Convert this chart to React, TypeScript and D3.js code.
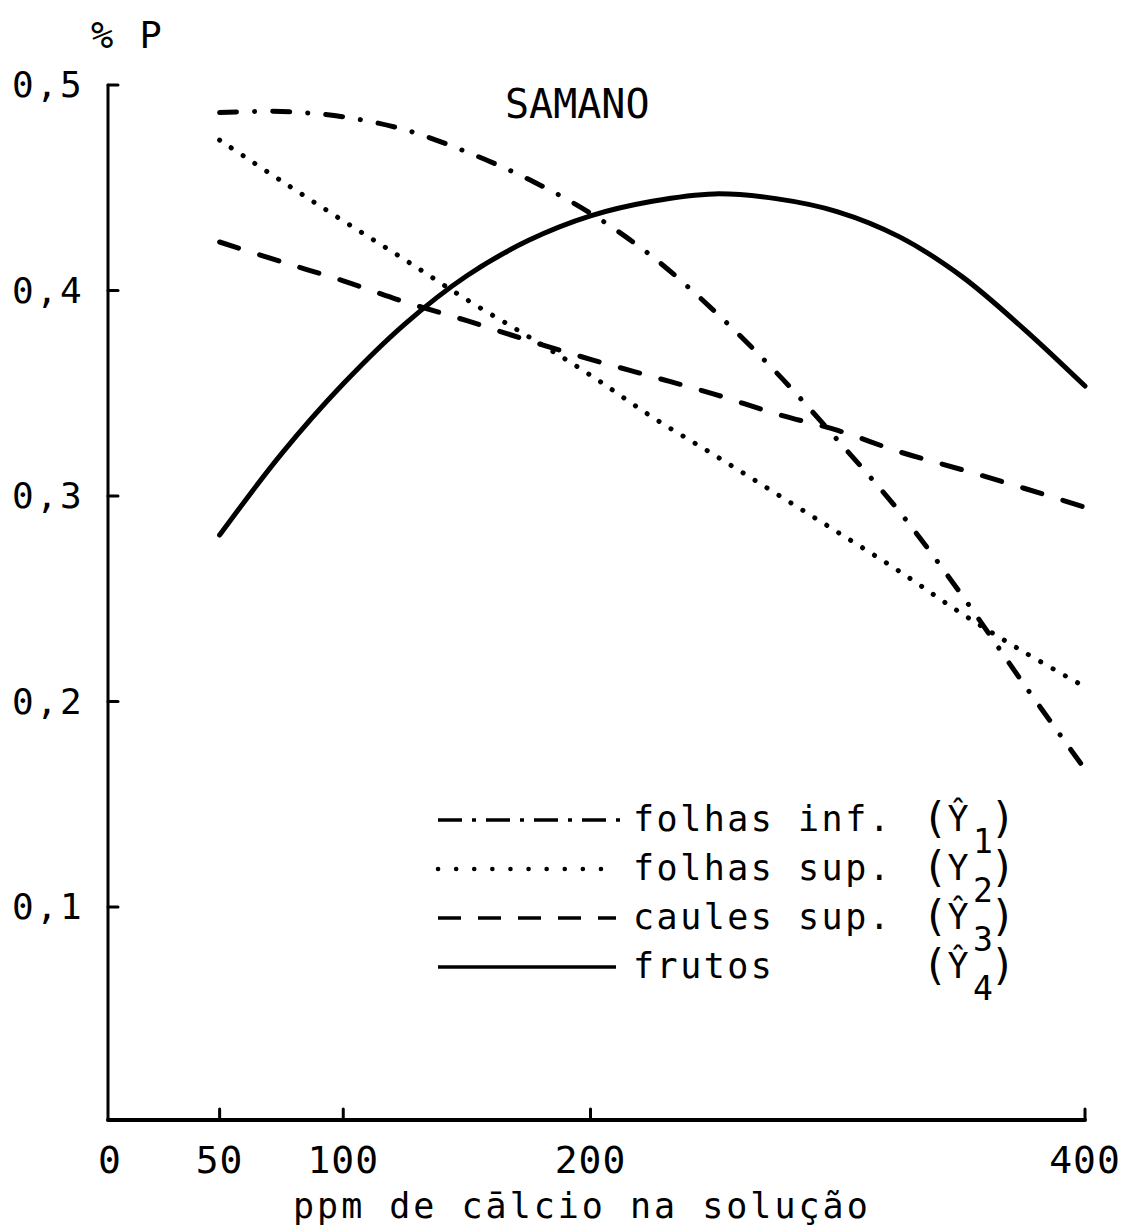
import React from "react";
import * as d3 from "d3";

// Calcium levels in the nutrient solution (ppm)
const calcio = [50, 75, 100, 125, 150, 175, 200, 225, 250, 275, 300, 325, 350, 375, 400];

// % P estimated by the regression curves
const folhasInf = [0.4866, 0.4871, 0.4845, 0.4782, 0.4674, 0.4541, 0.4376, 0.4165, 0.3901, 0.3603, 0.3271, 0.2923, 0.2521, 0.2089, 0.167];
const folhasSup = [0.4732, 0.4533, 0.4339, 0.4149, 0.3955, 0.3775, 0.3588, 0.3384, 0.32, 0.3012, 0.2824, 0.2633, 0.2429, 0.2243, 0.2071];
const caulesSup = [0.4236, 0.414, 0.4047, 0.3944, 0.3853, 0.3756, 0.3665, 0.3581, 0.3496, 0.34, 0.3319, 0.3215, 0.3129, 0.3039, 0.2945];
const frutos = [0.281, 0.3205, 0.3546, 0.3838, 0.4072, 0.4244, 0.4363, 0.4434, 0.447, 0.4447, 0.4383, 0.4261, 0.407, 0.3816, 0.3535];

const xTicks = [50, 100, 200, 400];
const xTickLabels = ["0", "50", "100", "200", "400"];
const yTicks = [0.1, 0.2, 0.3, 0.4, 0.5];
const yTickLabels = ["0,1", "0,2", "0,3", "0,4", "0,5"];

const seriesNames = ["folhas inf.", "folhas sup.", "caules sup.", "frutos"];
const seriesSubs = ["1", "2", "3", "4"];
const seriesHat = [true, false, true, true];

const W = 1127;
const H = 1232;
const AXIS_X = 108;
const AXIS_Y = 1120;
const MONO = "'DejaVu Sans Mono', 'Liberation Mono', monospace";

const x = d3.scaleLinear().domain([0, 400]).range([96, 1085]);
const y = d3.scaleLinear().domain([0, 0.5]).range([1112.5, 85]);

const line = d3
  .line<[number, number]>()
  .x((d) => x(d[0]))
  .y((d) => y(d[1]))
  .curve(d3.curveCatmullRom.alpha(0.5));

const curveStyles = [
  { dash: "17 18 0.1 18", cap: "round" as const },
  { dash: "0.1 14", cap: "round" as const },
  { dash: "20 22", cap: "round" as const },
  { dash: "none", cap: "round" as const },
];
const legendStyles = [
  { dash: "24 10 4 10", cap: "butt" as const, w: 3.5 },
  { dash: "0.1 18", cap: "round" as const, w: 4.5 },
  { dash: "23 17", cap: "butt" as const, w: 3.5 },
  { dash: "none", cap: "butt" as const, w: 3.5 },
];

export default function App() {
  const series = [folhasInf, folhasSup, caulesSup, frutos];
  const legendTop = 820;
  const legendStep = 49;

  return (
    <svg
      width={W}
      height={H}
      viewBox={`0 0 ${W} ${H}`}
      style={{ position: "absolute", left: 0, top: 0, background: "#fff" }}
    >
      <rect x={0} y={0} width={W} height={H} fill="#fff" />

      {/* axes */}
      <g stroke="#000" fill="none" strokeLinecap="round">
        <line x1={AXIS_X} y1={AXIS_Y} x2={AXIS_X} y2={y(0.5)} strokeWidth={3} />
        <line x1={AXIS_X} y1={AXIS_Y} x2={x(400)} y2={AXIS_Y} strokeWidth={4} />
        {yTicks.map((t) => (
          <line key={t} x1={AXIS_X} x2={AXIS_X + 10} y1={y(t)} y2={y(t)} strokeWidth={3} />
        ))}
        {xTicks.map((t) => (
          <line key={t} x1={x(t)} x2={x(t)} y1={AXIS_Y} y2={AXIS_Y - 11} strokeWidth={3} />
        ))}
      </g>

      {/* axis labels */}
      <g fontFamily={MONO} fill="#000">
        {yTicks.map((t, i) => (
          <text key={t} x={84} y={y(t) + 12} fontSize={36} letterSpacing={2.3} textAnchor="end">
            {yTickLabels[i]}
          </text>
        ))}
        {[0, ...xTicks].map((t, i) => (
          <text
            key={t}
            x={t === 0 ? AXIS_X + 2 : x(t)}
            y={1173}
            fontSize={38}
            letterSpacing={1}
            textAnchor="middle"
          >
            {xTickLabels[i]}
          </text>
        ))}
        <text x={293} y={1218} fontSize={35} letterSpacing={3}>
          ppm de cālcio na solução
        </text>
        <text x={91} y={48} fontSize={37} letterSpacing={2}>
          % P
        </text>
        <text x={505} y={118} fontSize={40}>
          SAMANO
        </text>
      </g>

      {/* curves */}
      <g fill="none" stroke="#000" strokeWidth={5}>
        {series.map((vals, i) => (
          <path
            key={i}
            d={line(calcio.map((c, j) => [c, vals[j]] as [number, number])) || ""}
            strokeDasharray={curveStyles[i].dash}
            strokeLinecap={curveStyles[i].cap}
          />
        ))}
      </g>

      {/* legend */}
      <g fontFamily={MONO} fill="#000">
        {seriesNames.map((name, i) => {
          const cy = legendTop + i * legendStep;
          const base = cy + 11;
          const st = legendStyles[i];
          return (
            <g key={name}>
              <line
                x1={438}
                x2={i === 0 ? 626 : 616}
                y1={cy}
                y2={cy}
                stroke="#000"
                strokeWidth={st.w}
                strokeDasharray={st.dash}
                strokeLinecap={st.cap}
              />
              <text x={633} y={base} fontSize={35} letterSpacing={2.5}>
                {name}
              </text>
              <text x={935} y={base + 2} fontSize={42} textAnchor="middle">
                (
              </text>
              <text x={958} y={base} fontSize={35} textAnchor="middle">
                {seriesHat[i] ? "Ŷ" : "Y"}
              </text>
              <text x={983} y={base + 22} fontSize={33} textAnchor="middle">
                {seriesSubs[i]}
              </text>
              <text x={1003} y={base + 2} fontSize={42} textAnchor="middle">
                )
              </text>
            </g>
          );
        })}
      </g>
    </svg>
  );
}
